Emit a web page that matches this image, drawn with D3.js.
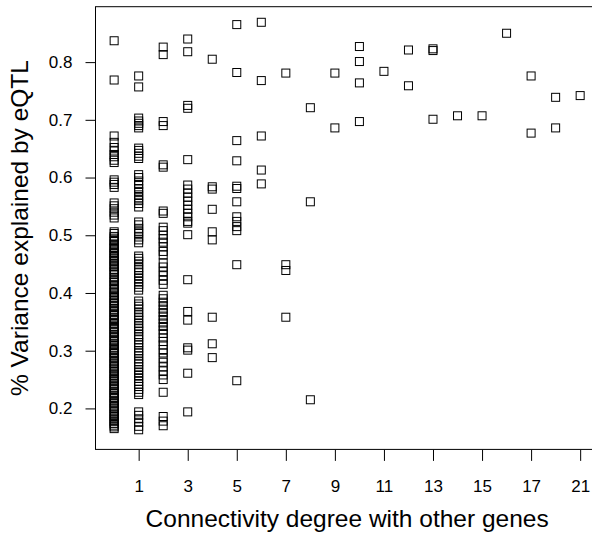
<!DOCTYPE html>
<html>
<head>
<meta charset="utf-8">
<script src="https://cdn.jsdelivr.net/npm/d3@7"></script>
<style>
  body { margin: 0; background: #fff; }
  svg text { font-family: "Liberation Sans", Arial, sans-serif; fill: #000; }
</style>
</head>
<body>
<div id="chart"></div>
<script>
// connectivity degree levels (plotted as a factor)
const degrees = ["0","1","2","3","4","5","6","7","8","9","10","11","12","13","14","15","16","17","18","21"];
const degreeTicks = ["1","3","5","7","9","11","13","15","17","21"];
const varianceTicks = [0.2, 0.3, 0.4, 0.5, 0.6, 0.7, 0.8];

// % variance explained, one list per degree
const deg0 = [0.837, 0.769,
  0.672, 0.661, 0.652, 0.646, 0.640, 0.636, 0.630, 0.626,
  0.596, 0.592, 0.588, 0.583,
  0.556, 0.551, 0.546, 0.540, 0.535, 0.530,
  0.506, 0.503, 0.498, 0.495, 0.491, 0.489, 0.485, 0.482, 0.479, 0.477, 0.473, 0.470, 0.468, 0.465, 0.462, 0.459,
  0.456, 0.454, 0.450, 0.447, 0.445, 0.441, 0.438, 0.436, 0.432, 0.427, 0.424, 0.421, 0.419, 0.415, 0.412, 0.408,
  0.406, 0.402, 0.400, 0.396, 0.393, 0.391, 0.387, 0.384, 0.382, 0.378, 0.376, 0.372, 0.369, 0.367, 0.363, 0.361,
  0.357, 0.354, 0.352, 0.348, 0.346, 0.342, 0.339, 0.337, 0.333, 0.331, 0.327, 0.324, 0.322, 0.318, 0.316, 0.312,
  0.309, 0.306, 0.303, 0.300, 0.297, 0.295, 0.291, 0.288, 0.286, 0.282, 0.279, 0.277, 0.273, 0.270, 0.268, 0.264,
  0.261, 0.258, 0.256, 0.252, 0.249, 0.247, 0.243, 0.240, 0.237, 0.234, 0.232, 0.228, 0.226, 0.222, 0.219, 0.217,
  0.213, 0.210, 0.208, 0.204, 0.201, 0.199, 0.195, 0.192, 0.189, 0.186, 0.183, 0.180, 0.177, 0.174, 0.171, 0.168, 0.165];
const deg1 = [0.776, 0.757,
  0.703, 0.698, 0.694, 0.690, 0.686,
  0.651, 0.647, 0.642, 0.637, 0.633,
  0.605, 0.600, 0.594, 0.588,
  0.581, 0.576, 0.570, 0.565, 0.560, 0.555, 0.549,
  0.523, 0.518, 0.512, 0.507, 0.503, 0.497, 0.492, 0.487,
  0.464, 0.460, 0.455, 0.450, 0.444, 0.440, 0.435, 0.430, 0.425, 0.420, 0.415, 0.410, 0.405,
  0.386, 0.381, 0.377, 0.372, 0.366, 0.362, 0.357, 0.353, 0.347, 0.343, 0.338, 0.334, 0.328, 0.324, 0.319,
  0.314, 0.310, 0.305, 0.300, 0.296, 0.291, 0.286, 0.281, 0.277, 0.272, 0.267, 0.262, 0.257, 0.252, 0.247,
  0.242, 0.238, 0.233, 0.228, 0.224,
  0.194, 0.188, 0.182, 0.176, 0.169, 0.163];
const deg2 = [0.826, 0.813, 0.697, 0.690, 0.622, 0.618, 0.542, 0.538,
  0.514, 0.508, 0.500, 0.494, 0.488, 0.480, 0.472, 0.466,
  0.452, 0.445, 0.437, 0.430, 0.422, 0.415,
  0.396, 0.390, 0.384, 0.378, 0.372, 0.366, 0.360, 0.354, 0.348, 0.342, 0.336, 0.330, 0.322, 0.316, 0.310, 0.302, 0.296,
  0.287, 0.280, 0.272, 0.265, 0.258, 0.250,
  0.228, 0.186, 0.178, 0.170];
const deg3 = [0.840, 0.818, 0.725, 0.720, 0.631, 0.587, 0.580, 0.573, 0.566, 0.559, 0.552, 0.545, 0.538, 0.532,
  0.524, 0.521, 0.501, 0.423, 0.368, 0.353, 0.305, 0.301, 0.261, 0.194];
const deg4 = [0.805, 0.584, 0.580, 0.545, 0.506, 0.492, 0.358, 0.312, 0.288];
const deg5 = [0.865, 0.782, 0.664, 0.629, 0.585, 0.581, 0.558, 0.532, 0.524, 0.515, 0.508, 0.449, 0.248];
const deg6 = [0.869, 0.768, 0.672, 0.613, 0.589];
const deg7 = [0.781, 0.449, 0.439, 0.358];
const deg8 = [0.721, 0.558, 0.215];
const deg9 = [0.781, 0.686];
const deg10 = [0.827, 0.801, 0.764, 0.697];
const deg11 = [0.784];
const deg12 = [0.821, 0.759];
const deg13 = [0.823, 0.820, 0.701];
const deg14 = [0.707];
const deg15 = [0.707];
const deg16 = [0.850];
const deg17 = [0.776, 0.677];
const deg18 = [0.739, 0.686];
const deg21 = [0.742];

const series = [deg0, deg1, deg2, deg3, deg4, deg5, deg6, deg7, deg8, deg9,
  deg10, deg11, deg12, deg13, deg14, deg15, deg16, deg17, deg18, deg21];

const points = [];
series.forEach((vals, i) => vals.forEach(v => points.push({ degree: degrees[i], value: v })));

const width = 592, height = 534;
const plot = { left: 95.5, right: 598.8, top: 6.7, bottom: 449.4 };

const svg = d3.select('#chart').append('svg')
  .attr('width', width)
  .attr('height', height);

// factor axis: R pads the range by 4% on each side
const x = d3.scalePoint()
  .domain(degrees)
  .range([plot.left, plot.right])
  .padding(0.76);

const y = d3.scaleLinear()
  .domain([0.129, 0.896])
  .range([plot.bottom, plot.top]);

// points
const s = 8;
svg.append('g')
  .selectAll('rect')
  .data(points)
  .join('rect')
  .attr('x', d => x(d.degree) - s / 2)
  .attr('y', d => y(d.value) - s / 2)
  .attr('width', s)
  .attr('height', s)
  .attr('fill', 'none')
  .attr('stroke', '#000')
  .attr('stroke-width', 1);

// frame
svg.append('rect')
  .attr('x', plot.left)
  .attr('y', plot.top)
  .attr('width', plot.right - plot.left)
  .attr('height', plot.bottom - plot.top)
  .attr('fill', 'none')
  .attr('stroke', '#000')
  .attr('stroke-width', 1);

// x axis
const xAxis = svg.append('g')
  .attr('transform', `translate(0,${plot.bottom + 0.5})`)
  .call(d3.axisBottom(x).tickValues(degreeTicks).tickSize(11).tickSizeOuter(0).tickPadding(19));
xAxis.select('.domain').remove();
xAxis.selectAll('text').style('font-size', '17px');

// y axis
const yAxis = svg.append('g')
  .attr('transform', `translate(${plot.left},0)`)
  .call(d3.axisLeft(y).tickValues(varianceTicks).tickFormat(d3.format('.1f')).tickSize(10).tickSizeOuter(0).tickPadding(13));
yAxis.select('.domain').remove();
yAxis.selectAll('text').style('font-size', '17px');

// titles
svg.append('text')
  .attr('x', (plot.left + plot.right) / 2)
  .attr('y', 527)
  .attr('text-anchor', 'middle')
  .style('font-size', '24.5px')
  .text('Connectivity degree with other genes');

svg.append('text')
  .attr('transform', `translate(28,${(plot.top + plot.bottom) / 2}) rotate(-90)`)
  .attr('text-anchor', 'middle')
  .style('font-size', '24.5px')
  .text('% Variance explained by eQTL');
</script>
</body>
</html>
